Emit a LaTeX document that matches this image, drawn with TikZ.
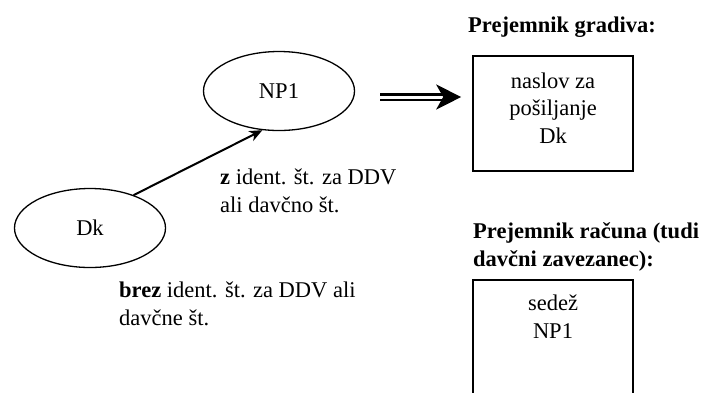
\documentclass[tikz,border=0pt]{standalone}
\usepackage{fontspec}
\setmainfont{Liberation Serif}
\usetikzlibrary{arrows.meta,shapes.geometric}
\newcommand{\reffont}{\fontsize{22.5}{27.3}\selectfont}
\tikzset{
  party/.style={ellipse, draw, line width=1.3pt, minimum width=151pt, minimum height=79pt, inner sep=0pt, font=\reffont},
  recbox/.style={draw, line width=1.6pt, minimum width=160pt, inner sep=0pt},
  lbl/.style={inner sep=0pt, align=left, font=\reffont},
  ctxt/.style={inner sep=0pt, align=center, font=\reffont},
}
\begin{document}
\begin{tikzpicture}[x=1pt,y=-1pt]
\useasboundingbox (0,0) rectangle (720,392);
\node[party] (NP1) at (279,91) {NP1};
\node[party] (Dk) at (90,228) {Dk};
\draw[line width=2pt, -{Stealth[length=13pt,width=11pt,inset=4pt]}] (Dk.37) -- (NP1.247);
\node[lbl, anchor=base west] (zlbl) at (220,212) {\textbf{z} ident. št. za DDV\\ali davčno št.};
\node[lbl, anchor=base west] (brezlbl) at (119,325) {\textbf{brez} ident. št. za DDV ali\\davčne št.};
\node[lbl, anchor=base west] (h1) at (468,32) {\textbf{Prejemnik gradiva:}};
\node[recbox, minimum height=115pt] (box1) at (553,113.5) {};
\node[ctxt, anchor=base] (box1t) at (553,143) {naslov za\\pošiljanje\\Dk};
\node[lbl, anchor=base west] (h2) at (473,266) {\textbf{Prejemnik računa (tudi}\\\textbf{davčni zavezanec):}};
\node[recbox, minimum height=130pt, anchor=north] (box2) at (553,279) {};
\node[ctxt, anchor=base] (box2t) at (553,338) {sedež\\NP1};
\coordinate (dstart) at (380,97);
\draw[double, double distance=3pt, line width=2.4pt, -{Stealth[length=25pt,width=25pt,inset=7pt]}, shorten >=11pt] (dstart) -- (dstart -| box1.west);
\end{tikzpicture}
\end{document}
